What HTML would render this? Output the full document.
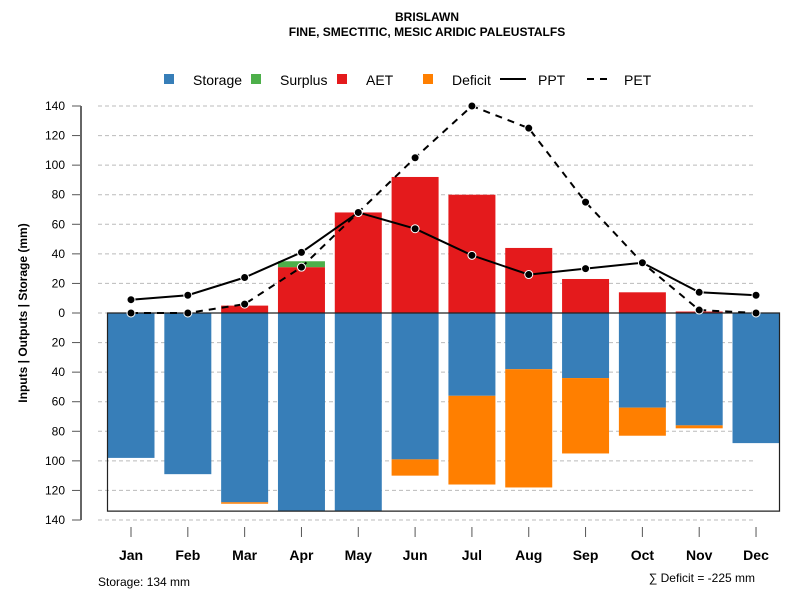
<!DOCTYPE html>
<html><head><meta charset="utf-8"><style>body{margin:0;background:#fff}svg text{font-family:"Liberation Sans",sans-serif}</style></head>
<body>
<svg id="c" width="800" height="600" xmlns="http://www.w3.org/2000/svg">
<text x="427" y="21" text-anchor="middle" font-size="12" font-weight="bold">BRISLAWN</text>
<text x="427" y="36" text-anchor="middle" font-size="12" font-weight="bold">FINE, SMECTITIC, MESIC ARIDIC PALEUSTALFS</text>
<g font-size="14">
<rect x="164" y="74" width="10" height="10" fill="#377EB8"/><text x="193" y="85">Storage</text>
<rect x="251" y="74" width="10" height="10" fill="#4DAF4A"/><text x="280" y="85">Surplus</text>
<rect x="337" y="74" width="10" height="10" fill="#E41A1C"/><text x="366" y="85">AET</text>
<rect x="423" y="74" width="10" height="10" fill="#FF7F00"/><text x="452" y="85">Deficit</text>
<line x1="500" y1="79" x2="526" y2="79" stroke="#000" stroke-width="2"/><text x="538" y="85">PPT</text>
<line x1="587" y1="79" x2="609" y2="79" stroke="#000" stroke-width="2" stroke-dasharray="7,6"/><text x="624" y="85">PET</text>
</g>
<text transform="translate(27,313) rotate(-90)" text-anchor="middle" font-size="12" font-weight="bold">Inputs | Outputs | Storage    (mm)</text>
<text x="98" y="586" font-size="12">Storage: 134 mm</text>
<text x="755" y="582" text-anchor="end" font-size="12">∑ Deficit = -225 mm</text>
<g id="grid"></g><g id="bars"></g><g id="axes"></g><g id="lines"></g>
</svg>
<script>
const months=["Jan","Feb","Mar","Apr","May","Jun","Jul","Aug","Sep","Oct","Nov","Dec"];
const storage=[98,109,128,134,134,99,56,38,44,64,76,88];
const deficit=[0,0,1,0,0,11,60,80,51,19,2,0];
const aet=[0,0,5,31,68,92,80,44,23,14,1,0];
const surplus=[0,0,0,4,0,0,0,0,0,0,0,0];
const ppt=[9,12,24,41,68,57,39,26,30,34,14,12];
const pet=[0,0,6,31,68,105,140,125,75,34,2,0];
const ticks=[140,120,100,80,60,40,20,0,20,40,60,80,100,120,140];
const storageMax=134;
const NS="http://www.w3.org/2000/svg";
const y0=313,k=207/140;
function yUp(v){return y0-v*k;}
function yDn(v){return y0+v*k;}
function xC(i){return 131+i*56.82;}
function mk(p,t,a){const e=document.createElementNS(NS,t);for(const n in a)e.setAttribute(n,a[n]);document.getElementById(p).appendChild(e);return e;}
ticks.forEach((t,i)=>{const y=i<7?yUp(t):yDn(t);
 const g=mk('grid','line',{x1:98,x2:755,y1:y,y2:y,stroke:'#bbb','stroke-dasharray':'4,3'});
 
 
 const tk=mk('axes','line',{x1:72,x2:81,y1:y,y2:y,stroke:'#555'});
 
 
 const tl=mk('axes','text',{x:65,y:y+4,'text-anchor':'end','font-size':12});tl.textContent=t;
 
 
});
const ax=mk('axes','line',{x1:81,x2:81,y1:yUp(140),y2:yDn(140),stroke:'#666','stroke-width':2});


const w=47;
months.forEach((m,i)=>{const x=xC(i)-w/2;
 function bar(ya,yb,c,n){const r=mk('bars','rect',{x:x,y:Math.min(ya,yb),width:w,height:Math.abs(yb-ya),fill:c});
  
  }
 if(storage[i])bar(yDn(0),yDn(storage[i]),'#377EB8','storage');
 if(deficit[i])bar(yDn(storage[i]),yDn(storage[i]+deficit[i]),'#FF7F00','deficit');
 if(aet[i])bar(yUp(0),yUp(aet[i]),'#E41A1C','aet');
 if(surplus[i])bar(yUp(aet[i]),yUp(aet[i]+surplus[i]),'#4DAF4A','surplus');
 const t=mk('axes','line',{x1:xC(i),x2:xC(i),y1:527,y2:537,stroke:'#555'});
 
 
 const l=mk('axes','text',{x:xC(i),y:560,'text-anchor':'middle','font-size':14,'font-weight':'bold'});l.textContent=m;
 
 
});
const bx=mk('axes','path',{d:`M107.5 ${y0} H779.5 V${yDn(storageMax)} H107.5 Z`,fill:'none',stroke:'#222','stroke-width':1.2});


function series(vals,dash,n){
 const pts=vals.map((v,i)=>xC(i)+','+yUp(v)).join(' ');
 const p=mk('lines','polyline',{points:pts,fill:'none',stroke:'#000','stroke-width':2,'stroke-dasharray':dash});
 
 
 vals.forEach((v,i)=>{const c=mk('lines','circle',{cx:xC(i),cy:yUp(v),r:4,fill:'#000',stroke:'#fff','stroke-width':1});
  
  });
}
series(pet,'7,6','pet');
series(ppt,'none','ppt');
</script>
</body></html>
